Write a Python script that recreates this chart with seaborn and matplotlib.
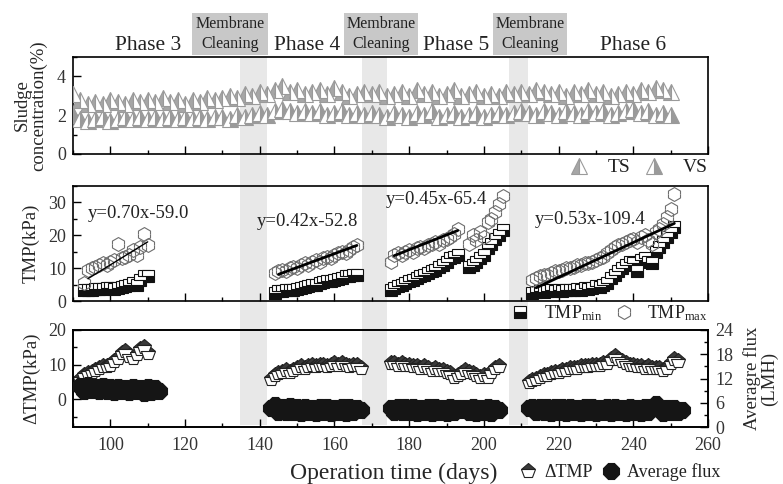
"""Sludge concentration, TMP and flux over operation time (phases 3-6)."""

import matplotlib

matplotlib.use("Agg")

import matplotlib.pyplot as plt
import matplotlib.transforms as mtransforms
import seaborn as sns
from matplotlib.lines import Line2D
from matplotlib.patches import Rectangle
from matplotlib.ticker import MultipleLocator

# ---- data ----
sludge_days = [90, 92, 94, 96, 98, 100, 102, 104, 106, 108,
               110, 112, 114, 116, 118, 120, 122, 124, 126, 128,
               130, 132, 134, 136, 138, 140, 142, 144, 146, 148,
               150, 152, 154, 156, 158, 160, 162, 164, 166, 168,
               170, 172, 174, 176, 178, 180, 182, 184, 186, 188,
               190, 192, 194, 196, 198, 200, 202, 204, 206, 208,
               210, 212, 214, 216, 218, 220, 222, 224, 226, 228,
               230, 232, 234, 236, 238, 240, 242, 244, 246, 248, 250]
ts_values = [3.1, 2.8, 2.6, 2.7, 2.6, 2.8, 2.7, 2.6, 2.8, 2.7,
             2.8, 2.7, 2.9, 2.7, 2.8, 2.6, 2.8, 2.7, 2.9, 2.8,
             2.9, 3.0, 2.9, 3.1, 3.0, 3.2, 3.1, 3.3, 3.5, 3.2,
             3.3, 3.1, 3.2, 3.3, 3.1, 3.4, 3.2, 3.0, 3.1, 3.2,
             3.1, 3.2, 3.0, 3.1, 3.2, 3.0, 3.3, 3.1, 3.2, 3.0,
             3.1, 3.3, 3.0, 3.1, 3.2, 3.0, 3.1, 3.0, 3.2, 3.1,
             3.2, 3.1, 3.3, 3.2, 3.1, 3.2, 3.0, 3.2, 3.1, 3.3,
             3.1, 3.2, 3.0, 3.1, 3.2, 3.1, 3.3, 3.2, 3.4, 3.3, 3.2]
vs_values = [2.0, 1.8, 1.7, 1.8, 1.9, 1.7, 1.8, 1.9, 1.8, 1.9,
             1.8, 1.9, 1.8, 1.9, 1.8, 1.9, 1.8, 1.9, 1.8, 1.9,
             1.9, 1.8, 2.0, 1.9, 2.0, 2.1, 2.0, 2.2, 2.3, 2.2,
             2.1, 2.2, 2.1, 2.2, 2.0, 2.1, 2.2, 2.0, 2.1, 2.0,
             2.1, 2.0, 1.9, 2.1, 2.0, 1.9, 2.1, 2.0, 2.2, 1.9,
             2.0, 2.1, 1.9, 2.0, 2.1, 1.9, 2.0, 2.1, 2.0, 2.1,
             2.2, 2.1, 2.0, 2.2, 2.1, 2.0, 2.2, 2.1, 2.0, 2.2,
             2.1, 2.2, 2.0, 2.1, 2.2, 2.3, 2.1, 2.2, 2.0, 2.1, 2.0]

tmp_days = [93, 94, 95, 96, 97, 98, 99, 100, 101, 102, 103, 104, 105, 106, 107, 108, 109, 110,
            144, 145, 146, 147, 148, 149, 150, 151, 152, 153, 154, 155, 156, 157, 158, 159,
            160, 161, 162, 163, 164, 165, 166,
            175, 176, 177, 178, 179, 180, 181, 182, 183, 184, 185, 186, 187, 188, 189, 190,
            191, 192, 193,
            196, 197, 198, 199, 200, 201, 202, 203, 204, 205,
            213, 214, 215, 216, 217, 218, 219, 220, 221, 222, 223, 224, 225, 226, 227, 228,
            229, 230, 231, 232, 233, 234, 235, 236, 237, 238, 239, 240, 241, 242, 243, 244,
            245, 246, 247, 248, 249, 250, 251]
tmp_max = [5.5, 9.5, 10.0, 10.5, 11.0, 11.5, 11.0, 12.0, 12.5, 17.5, 13.0, 13.5, 14.0, 15.5,
           14.0, 16.5, 20.5, 17.0,
           8.5, 9.0, 9.5, 9.0, 10.0, 10.5, 10.0, 11.0, 11.5, 11.0, 12.0, 12.5, 12.0, 13.0,
           13.5, 13.0, 14.0, 14.5, 15.0, 14.5, 15.5, 16.5, 17.0,
           12.0, 14.0, 14.5, 14.0, 15.0, 15.5, 15.0, 16.0, 16.5, 16.0, 17.0, 17.5, 18.0, 17.5,
           18.5, 19.0, 19.5, 20.5, 22.0,
           17.5, 20.0, 18.5, 21.0, 19.5, 24.0, 25.0, 27.0, 29.5, 32.0,
           6.5, 7.0, 7.5, 8.0, 8.0, 8.5, 9.0, 9.0, 9.5, 10.0, 10.0, 10.5, 11.0, 11.0, 11.5,
           11.5, 12.0, 12.5, 13.0, 13.5, 14.5, 15.5, 16.5, 17.0, 17.5, 18.0, 18.5, 19.0, 18.0,
           19.5, 20.0, 18.5, 17.5, 21.0, 22.0, 23.5, 25.5, 28.0, 32.5]
tmp_min = [3.5, 3.5, 3.5, 3.8, 3.6, 3.8, 3.9, 4.0, 3.8, 4.0, 4.2, 4.5, 5.0, 5.5, 5.0, 6.5,
           7.5, 7.5,
           2.5, 3.0, 3.0, 3.2, 3.5, 3.5, 3.8, 4.0, 4.2, 4.5, 5.0, 5.0, 5.5, 5.8, 6.0, 6.2,
           6.5, 6.8, 7.0, 7.5, 7.5, 8.0, 8.0,
           3.5, 4.0, 4.5, 5.0, 5.5, 6.0, 6.5, 7.0, 7.5, 8.0, 8.5, 9.0, 9.5, 10.5, 11.0, 12.0,
           13.0, 13.5, 14.0,
           10.5, 11.0, 12.0, 13.0, 14.0, 16.0, 17.5, 19.0, 20.0, 21.5,
           2.5, 2.8, 3.0, 2.8, 3.0, 3.2, 3.0, 3.2, 3.0, 3.5, 3.2, 3.5, 3.8, 3.5, 4.0, 3.8,
           4.0, 4.5, 4.2, 5.0, 5.5, 7.0, 8.0, 9.0, 10.0, 11.0, 12.0, 11.5, 9.0, 12.5, 13.0,
           12.0, 11.5, 15.0, 16.5, 18.0, 19.5, 21.0, 22.5]

fit_slopes = [0.70, 0.42, 0.45, 0.53]
fit_intercepts = [-59.0, -52.8, -65.4, -109.4]
fit_starts = [94, 145, 176, 214]
fit_ends = [110, 166, 193, 251]

dtmp_days = [92, 93, 94, 95, 96, 97, 98, 99, 100, 101, 102, 103, 104, 105, 106, 107, 108,
             109, 110,
             143, 144, 145, 146, 147, 148, 149, 150, 151, 152, 153, 154, 155, 156, 157, 158,
             159, 160, 161, 162, 163, 164, 165, 166, 167,
             175, 176, 177, 178, 179, 180, 181, 182, 183, 184, 185, 186, 187, 188, 189, 190,
             191, 192, 193, 194,
             195, 196, 197, 198, 199, 200, 201, 202, 203, 204,
             212, 213, 214, 215, 216, 217, 218, 219, 220, 221, 222, 223, 224, 225, 226, 227,
             228, 229, 230, 231, 232, 233, 234, 235, 236, 237, 238, 239, 240, 241, 242, 243,
             244, 245, 246, 247, 248, 249, 250, 251, 252]
dtmp_values = [6.0, 7.0, 7.5, 8.0, 8.5, 9.0, 9.5, 9.5, 10.0, 11.0, 12.0, 13.5, 14.0, 12.5,
               12.0, 13.0, 14.5, 15.0, 13.5,
               6.0, 7.0, 7.5, 8.0, 8.5, 8.0, 8.5, 9.0, 9.5, 9.0, 9.5, 10.0, 9.5, 10.0, 10.0,
               9.5, 10.0, 10.5, 10.0, 10.5, 10.0, 9.5, 10.0, 10.0, 9.0,
               10.5, 10.5, 10.0, 10.5, 10.0, 10.0, 9.5, 9.5, 9.0, 9.5, 9.0, 8.5, 9.0, 8.5,
               8.5, 8.0, 7.5, 6.5, 7.0, 7.5,
               8.5, 8.0, 7.5, 7.0, 6.5, 7.0, 6.5, 8.0, 9.0, 9.5,
               5.0, 5.5, 6.0, 6.5, 7.0, 7.0, 7.5, 8.0, 8.0, 8.5, 8.5, 9.0, 9.0, 9.0, 9.5, 9.5,
               9.5, 10.0, 10.0, 10.0, 10.5, 10.5, 11.5, 12.5, 11.5, 11.0, 10.5, 10.0, 10.0,
               9.5, 9.5, 9.0, 9.5, 9.0, 9.0, 9.0, 8.5, 9.0, 10.5, 11.5, 11.0]

flux_days = [92, 93, 94, 95, 96, 97, 98, 99, 100, 101, 102, 103, 104, 105, 106, 107, 108,
             109, 110, 111, 112, 113,
             143, 144, 145, 146, 147, 148, 149, 150, 151, 152, 153, 154, 155, 156, 157, 158,
             159, 160, 161, 162, 163, 164, 165, 166, 167,
             175, 176, 177, 178, 179, 180, 181, 182, 183, 184, 185, 186, 187, 188, 189, 190,
             191, 192, 193, 194,
             195, 196, 197, 198, 199, 200, 201, 202, 203, 204,
             212, 213, 214, 215, 216, 217, 218, 219, 220, 221, 222, 223, 224, 225, 226, 227,
             228, 229, 230, 231, 232, 233, 234, 235, 236, 237, 238, 239, 240, 241, 242, 243,
             244, 245, 246, 247, 248, 249, 250, 251, 252, 253]
flux_values = [10.2, 9.0, 10.4, 9.2, 10.0, 8.8, 10.1, 9.0, 9.8, 8.7, 10.0, 8.9, 9.7, 8.6,
               9.9, 8.8, 9.6, 8.5, 9.8, 8.6, 9.7, 9.0,
               4.6, 5.4, 3.8, 5.0, 3.6, 5.1, 3.7, 4.9, 3.5, 5.0, 3.6, 4.8, 3.5, 5.0, 3.6, 4.9,
               3.5, 4.8, 3.6, 5.0, 3.5, 4.9, 3.7, 4.8, 4.2,
               4.8, 3.7, 5.0, 3.6, 4.9, 3.6, 5.0, 3.5, 4.8, 3.6, 5.0, 3.5, 4.9, 3.6, 4.8, 3.5,
               4.9, 3.6, 4.7, 4.2,
               4.6, 3.6, 4.9, 3.5, 4.8, 3.6, 4.9, 3.5, 4.7, 4.1,
               4.6, 5.0, 3.7, 5.0, 3.6, 4.9, 3.5, 5.0, 3.6, 4.9, 3.5, 5.0, 3.6, 4.8, 3.5, 4.9,
               3.6, 5.0, 3.5, 4.8, 3.6, 4.9, 3.5, 5.0, 3.6, 4.8, 3.5, 4.9, 3.6, 4.8, 3.5, 4.9,
               3.6, 5.0, 5.6, 4.8, 3.5, 4.8, 3.6, 4.7, 3.6, 4.1]

cleaning_spans = [(134.8, 142.0), (167.4, 174.0), (206.6, 211.8)]
phase_names = ["Phase 3", "Phase 4", "Phase 5", "Phase 6"]

# ---- style ----
sns.set_style("ticks")
plt.rcParams["font.family"] = ["Liberation Serif", "DejaVu Serif"]
plt.rcParams["mathtext.fontset"] = "custom"
plt.rcParams["mathtext.rm"] = "Liberation Serif"
plt.rcParams["mathtext.it"] = "Liberation Serif:italic"
plt.rcParams["axes.edgecolor"] = "black"
plt.rcParams["axes.linewidth"] = 1.2
plt.rcParams["xtick.color"] = "black"
plt.rcParams["ytick.color"] = "black"
plt.rcParams["text.color"] = "#222222"

W, H = 783, 484
fig = plt.figure(figsize=(7.83, 4.84), dpi=100)
ax1 = fig.add_axes([73 / W, 1 - 154 / H, 635 / W, 97 / H])
ax2 = fig.add_axes([73 / W, 1 - 301 / H, 635 / W, 115 / H], sharex=ax1)
ax3 = fig.add_axes([73 / W, 1 - 427 / H, 635 / W, 97 / H], sharex=ax1)
ax3r = ax3.twinx()


def markers(ax, x, y, marker, size, face, alt, edge, fill, ew=0.8, z=3):
    sns.lineplot(x=x, y=y, ax=ax, marker=marker, markersize=size, linestyle="none",
                 color=face, markerfacecolor=face, markerfacecoloralt=alt,
                 markeredgecolor=edge, markeredgewidth=ew, fillstyle=fill,
                 estimator=None, errorbar=None, sort=False, zorder=z)


def proxy(marker, size, face, alt, edge, fill, ew=0.8):
    return Line2D([], [], marker=marker, markersize=size, linestyle="none",
                  markerfacecolor=face, markerfacecoloralt=alt, markeredgecolor=edge,
                  markeredgewidth=ew, fillstyle=fill)


ts_style = ("^", 12, "#a6a6a6", "white", "#9a9a9a", "left")
vs_style = ("^", 12, "#9a9a9a", "white", "#9a9a9a", "right")
min_style = ("s", 8, "#111111", "white", "#111111", "bottom")
max_style = ("h", 10, "none", "none", "#6e6e6e", "top")
dtmp_style = ("p", 11, "#3a3a3a", "white", "#222222", "top")
flux_style = ("8", 12, "#151515", "#151515", "#151515", "full")

# panel 1: sludge concentration
markers(ax1, sludge_days, vs_values, *vs_style)
markers(ax1, sludge_days, ts_values, *ts_style)
ax1.set_ylim(0, 5)
ax1.yaxis.set_major_locator(MultipleLocator(2))
ax1.yaxis.set_minor_locator(MultipleLocator(1))
ax1.set_ylabel("Sludge\nconcentration(%)", fontsize=13.5, linespacing=1.0)
ax1.legend(handles=[proxy(*ts_style), proxy(*vs_style)], labels=["TS", "VS"],
           loc="center right", bbox_to_anchor=(1.0, -0.14), ncol=2, frameon=False,
           fontsize=14, handlelength=1.2, handletextpad=0.9, columnspacing=0.6,
           borderaxespad=0, borderpad=0)

# panel 2: TMP
markers(ax2, tmp_days, tmp_min, *min_style, z=3)
markers(ax2, tmp_days, tmp_max, *max_style, z=4)
for slope, icpt, x0, x1, lw in zip(fit_slopes, fit_intercepts, fit_starts, fit_ends,
                                   [1.0, 2.0, 2.0, 2.0]):
    sns.lineplot(x=[x0, x1], y=[slope * x0 + icpt, slope * x1 + icpt], ax=ax2,
                 color="black", linewidth=lw, zorder=5)
eq_pos = [(88, 213), (257, 222), (386, 200), (535, 220)]
for slope, icpt, (px, py) in zip(fit_slopes, fit_intercepts, eq_pos):
    fig.text(px / W, 1 - py / H, f"y={slope:.2f}x{icpt:.1f}", fontsize=13.5,
             ha="left", va="center", zorder=10)
ax2.set_ylim(0, 35)
ax2.yaxis.set_major_locator(MultipleLocator(10))
ax2.yaxis.set_minor_locator(MultipleLocator(5))
ax2.set_ylabel("TMP(kPa)", fontsize=13.5)
ax2.legend(handles=[proxy(*min_style), proxy(*max_style)],
           labels=["TMP$_{\\mathrm{min}}$", "TMP$_{\\mathrm{max}}$"],
           loc="center right", bbox_to_anchor=(1.0, -0.105), ncol=2, frameon=False,
           fontsize=13, handlelength=1.2, handletextpad=0.7, columnspacing=0.6,
           borderaxespad=0, borderpad=0)

# panel 3: delta TMP and flux
markers(ax3, dtmp_days, dtmp_values, *dtmp_style)
markers(ax3r, flux_days, flux_values, *flux_style)
ax3.set_ylim(-8, 20)
ax3.yaxis.set_major_locator(MultipleLocator(10))
ax3.yaxis.set_minor_locator(MultipleLocator(5))
ax3.set_ylabel("ΔTMP(kPa)", fontsize=13.5)
ax3r.set_ylim(0, 24)
ax3r.yaxis.set_major_locator(MultipleLocator(6))
ax3r.yaxis.set_minor_locator(MultipleLocator(3))
ax3r.set_ylabel("Averagre flux\n(LMH)", fontsize=13.5, linespacing=1.0)
ax3.set_xlabel("Operation time (days)", fontsize=17)
ax3.xaxis.set_label_coords(0.505, -0.37)
ax3.legend(handles=[proxy(*dtmp_style), proxy(*flux_style)],
           labels=["ΔTMP", "Average flux"],
           loc="center right", bbox_to_anchor=(1.02, -0.465), ncol=2, frameon=False,
           fontsize=13, handlelength=1.0, handletextpad=0.4, columnspacing=0.5,
           borderaxespad=0, borderpad=0)

# shared axis formatting
ax1.set_xlim(90, 260)
ax1.xaxis.set_major_locator(MultipleLocator(20))
ax1.xaxis.set_minor_locator(MultipleLocator(10))
for ax in (ax1, ax2, ax3, ax3r):
    ax.set_facecolor("none")
    for side in ("top", "right", "left", "bottom"):
        ax.spines[side].set_visible(True)
        ax.spines[side].set_color("black")
        ax.spines[side].set_linewidth(1.2)
    ax.tick_params(which="both", direction="in", labelsize=13, colors="black",
                   labelcolor="#333333")
    ax.tick_params(which="major", length=6, width=1, pad=5)
    ax.tick_params(which="minor", length=3, width=1)
for ax in (ax1, ax2):
    ax.tick_params(axis="x", labelbottom=False)
    ax.set_xlabel("")
ax3.tick_params(axis="x", which="major", pad=7)
ax3r.tick_params(axis="x", bottom=False, labelbottom=False)
ax1.yaxis.set_label_coords(-0.04, 0.5)
ax2.yaxis.set_label_coords(-0.052, 0.5)
ax3.yaxis.set_label_coords(-0.052, 0.5)
ax3r.yaxis.set_label_coords(1.055, 0.5)

# membrane cleaning bands across all panels
band_trans = mtransforms.blended_transform_factory(ax1.transData, fig.transFigure)
for x0, x1 in cleaning_spans:
    fig.add_artist(Rectangle((x0, 1 - 425 / H), x1 - x0, (425 - 57) / H,
                             transform=band_trans, facecolor="#e8e8e8",
                             edgecolor="none", zorder=-1))

# header: phase names and cleaning boxes
for name, cx in zip(phase_names, [148, 307, 456, 633]):
    fig.text(cx / W, 1 - 50 / H, name, fontsize=15.5, ha="center", va="baseline")
for bx0, bx1 in [(192, 268), (344, 418), (493, 567)]:
    fig.add_artist(Rectangle((bx0 / W, 1 - 55 / H), (bx1 - bx0) / W, 42 / H,
                             transform=fig.transFigure, facecolor="#c8c8c8",
                             edgecolor="none", zorder=1))
    fig.text((bx0 + bx1) / 2 / W, 1 - 34 / H, "Membrane\nCleaning", fontsize=11.5,
             ha="center", va="center", linespacing=1.25, zorder=2)

fig.savefig("out.png", dpi=100)
plt.close(fig)
